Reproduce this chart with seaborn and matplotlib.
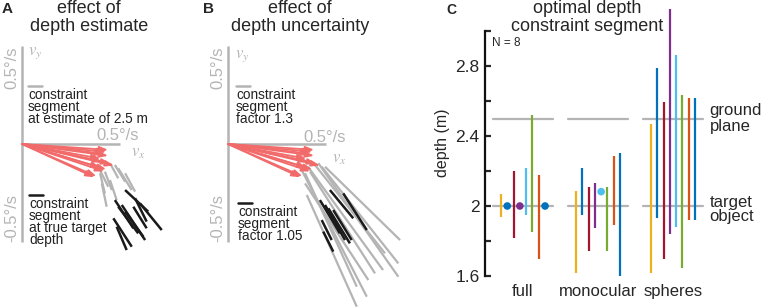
import numpy as np
import pandas as pd
import seaborn as sns
import matplotlib.pyplot as plt

sns.set_style("white")
plt.rcParams['font.family'] = ['Liberation Sans', 'DejaVu Sans']
plt.rcParams['mathtext.fontset'] = 'stix'

W, H = 763, 307
RED = '#F26B6B'
GRAY = '#B4B4B4'
BLACK = '#1A1A1A'

# target velocity arrows (deg/s), same in A and B
arrow_vx = [0.44, 0.43, 0.44, 0.42, 0.47, 0.45, 0.41, 0.43, 0.40, 0.38, 0.37, 0.42, 0.40]
arrow_vy = [-0.03, -0.04, -0.06, -0.05, -0.11, -0.10, -0.09, -0.13, -0.12, -0.165, -0.17, -0.14, -0.075]

# A: constraint segments (x0, y0, x1, y1) in deg/s
a_gray = [(0.389, -0.116, 0.440, -0.218), (0.398, -0.149, 0.423, -0.252),
          (0.423, -0.141, 0.458, -0.235), (0.449, -0.098, 0.491, -0.175),
          (0.474, -0.107, 0.526, -0.192), (0.491, -0.124, 0.560, -0.235),
          (0.407, -0.201, 0.432, -0.320), (0.449, -0.184, 0.483, -0.286),
          (0.526, -0.149, 0.577, -0.243)]
a_black = [(0.526, -0.235, 0.644, -0.345), (0.577, -0.277, 0.636, -0.396),
           (0.602, -0.303, 0.713, -0.439), (0.474, -0.286, 0.568, -0.430),
           (0.491, -0.320, 0.593, -0.456), (0.509, -0.311, 0.628, -0.490),
           (0.526, -0.345, 0.619, -0.473), (0.466, -0.379, 0.560, -0.524),
           (0.483, -0.422, 0.534, -0.541), (0.568, -0.320, 0.636, -0.430)]

# B: constraint segments
b_gray = [(0.376, -0.133, 0.708, -0.779), (0.393, -0.149, 0.657, -0.728),
          (0.402, -0.260, 0.657, -0.830), (0.393, -0.201, 0.716, -0.694),
          (0.418, -0.141, 0.750, -0.660), (0.444, -0.107, 0.801, -0.558),
          (0.461, -0.098, 0.869, -0.677), (0.478, -0.116, 0.869, -0.609),
          (0.495, -0.116, 0.878, -0.490), (0.408, -0.116, 0.791, -0.643)]
b_black = [(0.520, -0.235, 0.639, -0.379), (0.588, -0.252, 0.708, -0.439),
           (0.469, -0.286, 0.571, -0.456), (0.495, -0.311, 0.597, -0.490),
           (0.512, -0.328, 0.622, -0.507), (0.478, -0.388, 0.529, -0.490),
           (0.486, -0.447, 0.537, -0.549), (0.537, -0.337, 0.631, -0.490)]

# C: optimal depth constraint segment per subject (m)
conditions = ['full', 'monocular', 'spheres']
subject_colors = ['#EDB120', '#0072BD', '#A2142F', '#7E2F8E',
                  '#4DBEEE', '#77AC30', '#D95319', '#0072BD']
full_low = [1.935, 2.0, 1.815, 2.0, 1.949, 1.853, 1.695, 2.0]
full_high = [2.067, 2.0, 2.200, 2.0, 2.219, 2.520, 2.177, 2.0]
mono_low = [1.619, 1.949, 1.745, 1.876, 2.082, 1.745, 1.891, 1.600]
mono_high = [2.086, 2.219, 2.110, 2.133, 2.082, 2.110, 2.288, 2.305]
sph_low = [1.619, 1.930, 1.695, 1.840, 1.882, 1.644, 1.920, 1.920]
sph_high = [2.467, 2.787, 2.593, 3.124, 2.863, 2.634, 2.615, 2.615]
ground_depth = 2.5
target_depth = 2.0


def px_rect(x0, x1):
    return [x0 / W, 0, (x1 - x0) / W, 1]


fig = plt.figure(figsize=(W / 100, H / 100), dpi=100)


def velocity_panel(x0, x1, ox, gray, black, leg_gray, leg_black, vx_pos, vy_pos, hlab):
    ax = fig.add_axes(px_rect(x0, x1))
    ax.set_xlim((x0 - ox) / 196, (x1 - ox) / 196)
    ax.set_ylim((144 - 307) / 196, 144 / 196)
    ax.axis('off')
    ax.patch.set_alpha(0)
    ax.plot([0, 0], [-0.5, 0.5], color=GRAY, lw=1.8, solid_capstyle='butt')
    ax.plot([0, 0.5], [0, 0], color=GRAY, lw=1.8, solid_capstyle='butt')
    ax.text(-0.052, 0.5, '0.5°/s', rotation=90, ha='center', va='top', color=GRAY, fontsize=12)
    ax.text(-0.052, -0.5, '-0.5°/s', rotation=90, ha='center', va='bottom', color=GRAY, fontsize=12)
    ax.text(hlab[0], hlab[1], '0.5°/s', ha='center', va='baseline', color=GRAY, fontsize=12)
    ax.text(vx_pos[0], vx_pos[1], r'$v_x$', ha='left', va='top', color=GRAY, fontsize=12)
    ax.text(vy_pos[0], vy_pos[1], r'$v_y$', ha='left', va='top', color=GRAY, fontsize=12)
    for s in gray:
        ax.plot([s[0], s[2]], [s[1], s[3]], color=GRAY, lw=1.6, solid_capstyle='butt', zorder=2)
    for s in black:
        ax.plot([s[0], s[2]], [s[1], s[3]], color=BLACK, lw=1.8, solid_capstyle='butt', zorder=3)
    for vx, vy in zip(arrow_vx, arrow_vy):
        ax.annotate('', xy=(vx, vy), xytext=(0, 0),
                    arrowprops=dict(arrowstyle='-|>,head_length=0.5,head_width=0.17',
                                    color=RED, lw=1.3, shrinkA=0, shrinkB=0,
                                    mutation_scale=10), zorder=4)
    # legends
    (gx, gy, gtxt), (bx, by, btxt) = leg_gray, leg_black
    ax.plot([gx, gx + 0.07], [gy, gy], color=GRAY, lw=1.8)
    ax.text(gx, gy - 0.008, gtxt, ha='left', va='top', fontsize=9.8, linespacing=0.84, color='#222222')
    ax.plot([bx, bx + 0.07], [by, by], color=BLACK, lw=1.8)
    ax.text(bx, by - 0.008, btxt, ha='left', va='top', fontsize=9.8, linespacing=0.84, color='#222222')
    return ax


velocity_panel(0, 200, 22, a_gray, a_black,
               (0.031, 0.295, 'constraint\nsegment\nat estimate of 2.5 m'),
               (0.036, -0.26, 'constraint\nsegment\nat true target\ndepth'),
               (0.555, -0.01), (0.03, 0.505), (0.49, 0.02))
velocity_panel(200, 405, 228, b_gray, b_black,
               (0.041, 0.295, 'constraint\nsegment\nfactor 1.3'),
               (0.051, -0.301, 'constraint\nsegment\nfactor 1.05'),
               (0.53, -0.04), (0.036, 0.49), (0.495, 0.012))

# panel C
axc = fig.add_axes(px_rect(405, 763))
axc.patch.set_alpha(0)
axc.set_xlim((405 - 523) / 75, (763 - 523) / 75)
axc.set_ylim(2 - (307 - 206) / 175, 2 + 206 / 175)

for g in range(3):
    axc.plot([g - 0.4, g + 0.4], [ground_depth] * 2, color=GRAY, lw=1.6, zorder=1)
    axc.plot([g - 0.4, g + 0.4], [target_depth] * 2, color=GRAY, lw=1.6, zorder=1)

rows = []
for g, (lo, hi) in enumerate([(full_low, full_high), (mono_low, mono_high), (sph_low, sph_high)]):
    for i in range(8):
        rows.append(dict(cond=conditions[g], subj=i, x=g + (i - 3.5) * 0.084,
                         low=lo[i], high=hi[i], color=subject_colors[i]))
df = pd.DataFrame(rows)
seg = df[df['high'] > df['low']]
axc.vlines(seg['x'], seg['low'], seg['high'], colors=seg['color'], lw=1.6, zorder=2)
pts = df[df['high'] == df['low']]
sns.scatterplot(data=pts, x='x', y='high', hue='color', palette={c: c for c in pts['color'].unique()},
                s=30, edgecolor='none', legend=False, ax=axc, zorder=3)

for s in ['top', 'right', 'bottom']:
    axc.spines[s].set_visible(False)
axc.spines['left'].set_position(('data', (485 - 523) / 75))
axc.spines['left'].set_bounds(1.6, 3.0)
axc.spines['left'].set_linewidth(1.6)
axc.spines['left'].set_color('#111111')
axc.set_yticks(np.arange(1.6, 3.01, 0.2))
axc.set_yticklabels(['1.6', '', '2', '', '2.4', '', '2.8', ''])
axc.tick_params(axis='y', direction='in', length=4, width=1.6, pad=4, labelsize=12.5, left=True)
axc.set_xticks([])
axc.set_xlabel('')
axc.set_ylabel('')
axc.text((442 - 523) / 75, 2 + (206 - 143) / 175, 'depth (m)', rotation=90,
         ha='center', va='center', fontsize=11.5)
for g, name in enumerate(conditions):
    axc.text(g, 1.51, name, ha='center', va='center', fontsize=12)
axc.text(2.49, ground_depth, 'ground\nplane', ha='left', va='center', fontsize=12, linespacing=1.0)
axc.text(2.49, target_depth - 0.02, 'target\nobject', ha='left', va='center', fontsize=12, linespacing=1.0)
axc.text((492 - 523) / 75, 2 + (206 - 43) / 175, 'N = 8', ha='left', va='center', fontsize=8.5)

# titles and panel letters
def ftext(px, py, s, **kw):
    fig.text(px / W, 1 - py / H, s, **kw)

ftext(89, 0, 'effect of\ndepth estimate', ha='center', va='top', fontsize=13, linespacing=1.1)
ftext(300, 0, 'effect of\ndepth uncertainty', ha='center', va='top', fontsize=13, linespacing=1.1)
ftext(587, 0, 'optimal depth\nconstraint segment', ha='center', va='top', fontsize=13, linespacing=1.1)
ftext(2, 2, 'A', ha='left', va='top', fontsize=11, weight='bold')
ftext(203, 2, 'B', ha='left', va='top', fontsize=11, weight='bold')
ftext(446, 3, 'C', ha='left', va='top', fontsize=10, weight='bold')

fig.savefig('out.png', dpi=100)
